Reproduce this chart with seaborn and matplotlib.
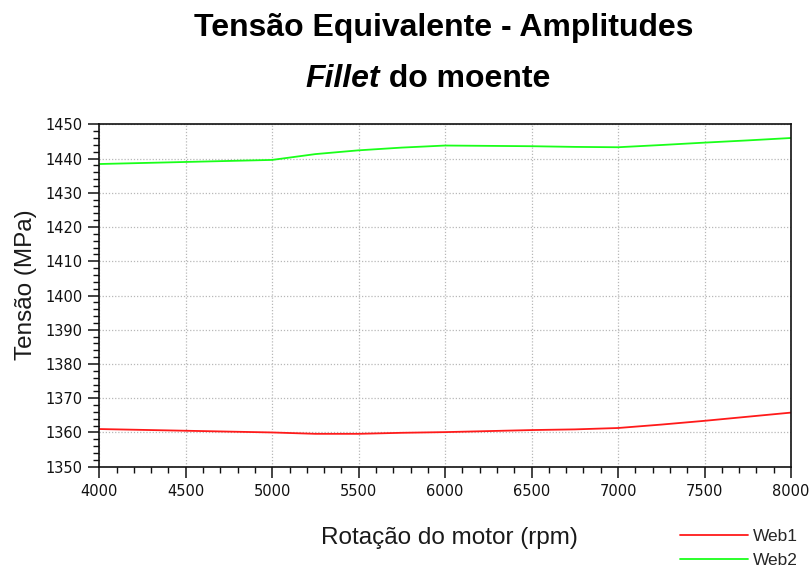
import matplotlib
matplotlib.use("Agg")
import matplotlib.pyplot as plt
import seaborn as sns
import pandas as pd
from matplotlib.ticker import MultipleLocator

rpm = [4000, 4250, 4500, 4750, 5000, 5250, 5500, 5750, 6000, 6250, 6500,
       6750, 7000, 7250, 7500, 7750, 8000]
web1 = [1361.0, 1360.75, 1360.5, 1360.25, 1360.0, 1359.6, 1359.6, 1359.9,
        1360.1, 1360.4, 1360.7, 1360.9, 1361.3, 1362.3, 1363.4, 1364.6, 1365.8]
web2 = [1438.4, 1438.7, 1439.0, 1439.3, 1439.6, 1441.3, 1442.4, 1443.2,
        1443.8, 1443.7, 1443.6, 1443.4, 1443.3, 1443.95, 1444.65, 1445.3, 1446.0]
series_names = ["Web1", "Web2"]
colors = ["#ff1a1a", "#1aff1a"]

title1 = "Tensão Equivalente - Amplitudes"
title2_italic = "Fillet"
title2_rest = " do moente"
xlabel = "Rotação do motor (rpm)"
ylabel = "Tensão (MPa)"

df = pd.concat([
    pd.DataFrame({"rpm": rpm, "val": web1, "serie": series_names[0]}),
    pd.DataFrame({"rpm": rpm, "val": web2, "serie": series_names[1]}),
])

sns.set_theme(style="white")
plt.rcParams["font.family"] = ["Liberation Sans", "DejaVu Sans"]

fig = plt.figure(figsize=(8.09, 5.68), dpi=100)
ax = fig.add_axes([99.3 / 809, 1 - 466.7 / 568, (791 - 99.3) / 809, (466.7 - 124.3) / 568])

sns.lineplot(data=df, x="rpm", y="val", hue="serie", palette=colors,
             linewidth=1.3, ax=ax, legend=True)

ax.set_xlim(4000, 8000)
ax.set_ylim(1350, 1450)
ax.xaxis.set_major_locator(MultipleLocator(500))
ax.xaxis.set_minor_locator(MultipleLocator(100))
ax.yaxis.set_major_locator(MultipleLocator(10))
ax.yaxis.set_minor_locator(MultipleLocator(2))
ax.grid(True, which="major", color="#b8b8b8", linestyle=(0, (1, 1.5)), linewidth=0.9)
for s in ax.spines.values():
    s.set_color("#111111")
    s.set_linewidth(1.2)
ax.tick_params(which="major", direction="out", length=7.8, width=1.1, color="#111111",
               labelsize=10.5, pad=4.5, labelcolor="#111111")
ax.tick_params(which="minor", direction="out", length=4, width=1.0, color="#111111")
ax.tick_params(axis="both", which="both", bottom=True, left=True, top=False, right=False)
for lab in ax.get_xticklabels() + ax.get_yticklabels():
    lab.set_family("DejaVu Sans")

ax.set_xlabel(xlabel, fontsize=17.5, color="#1a1a1a")
ax.set_ylabel(ylabel, fontsize=17.5, color="#1a1a1a")
ax.xaxis.set_label_coords((449 - 99.3) / 691.7, (466.7 - 527) / 342.4)
ax.yaxis.set_label_coords((37 - 99.3) / 691.7, (466.7 - 285) / 342.4)

handles, labels = ax.get_legend_handles_labels()
ax.legend(handles, labels, loc="upper left", bbox_to_anchor=(680 / 809, 1 - 529 / 568),
          bbox_transform=fig.transFigure, frameon=False, fontsize=12.5,
          handlelength=3.9, handletextpad=0.3, labelspacing=0.5,
          borderpad=0, borderaxespad=0)

fig.text(444 / 809, 1 - 36 / 568, title1, ha="center", va="baseline",
         fontsize=23, fontweight="bold", color="black")
t1 = fig.text(305 / 809, 1 - 87.3 / 568, title2_italic, ha="left", va="baseline",
              fontsize=23, fontweight="bold", fontstyle="italic", color="black")
ax.annotate(title2_rest, xy=(1, 0), xycoords=t1, ha="left", va="bottom",
            fontsize=23, fontweight="bold", color="black", annotation_clip=False)

fig.savefig("out.png", dpi=100)
